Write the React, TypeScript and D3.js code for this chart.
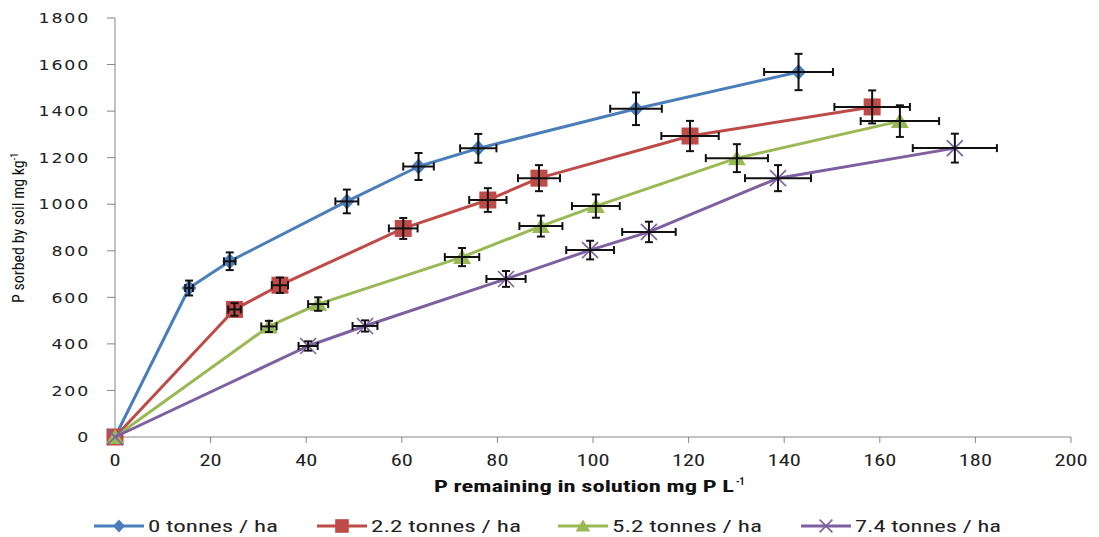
import React from 'react';
import * as d3 from 'd3';

// ---- data ----
const seriesNames = ['0 tonnes / ha', '2.2 tonnes / ha', '5.2 tonnes / ha', '7.4 tonnes / ha'];
const xTicks = [0, 20, 40, 60, 80, 100, 120, 140, 160, 180, 200];
const yTicks = [0, 200, 400, 600, 800, 1000, 1200, 1400, 1600, 1800];

const x0t = [0, 15.5, 24, 48.5, 63.5, 76, 109, 143];
const y0t = [0, 640, 755, 1012, 1162, 1240, 1410, 1568];
const xErr0t = [0, 0.8, 1.2, 2.4, 3.2, 3.8, 5.4, 7.2];
const yErr0t = [0, 32, 38, 51, 58, 62, 70, 78];

const x22t = [0, 25, 34.5, 60.3, 78, 88.7, 120.3, 158.4];
const y22t = [0, 548, 652, 896, 1018, 1112, 1293, 1418];
const xErr22t = [0, 1.3, 1.7, 3.0, 3.9, 4.4, 6.0, 7.9];
const yErr22t = [0, 27, 33, 45, 51, 56, 65, 71];

const x52t = [0, 32.2, 42.5, 72.6, 89.1, 100.6, 130.1, 164.2];
const y52t = [0, 475, 571, 773, 906, 992, 1198, 1357];
const xErr52t = [0, 1.6, 2.1, 3.6, 4.5, 5.0, 6.5, 8.2];
const yErr52t = [0, 24, 29, 39, 45, 50, 60, 68];

const x74t = [0, 40.4, 52.3, 81.8, 99.4, 111.7, 138.7, 175.7];
const y74t = [0, 391, 477, 679, 803, 881, 1112, 1241];
const xErr74t = [0, 2.0, 2.6, 4.1, 5.0, 5.6, 6.9, 8.8];
const yErr74t = [0, 20, 24, 34, 40, 44, 56, 62];

const seriesX = [x0t, x22t, x52t, x74t];
const seriesY = [y0t, y22t, y52t, y74t];
const seriesXErr = [xErr0t, xErr22t, xErr52t, xErr74t];
const seriesYErr = [yErr0t, yErr22t, yErr52t, yErr74t];

// ---- styles ----
const colors = ['#4A7EBB', '#BE4B48', '#98B954', '#7D60A0'];
const markerTypes = ['diamond', 'square', 'triangle', 'x'];
const axisColor = '#868686';
const narrowFont = "'Liberation Sans Narrow', 'Arial Narrow', 'Roboto Condensed', 'Liberation Sans', sans-serif";
const wideFont = "'DejaVu Sans', Verdana, sans-serif";

const W = 1099, H = 537;
const plot = { left: 115, right: 1071, top: 18, bottom: 437 };
const legendX = [94, 317, 558, 801];
const legendTextLen = [130, 150, 150, 146];

function Marker({ type, cx, cy, color, k = 1 }: { type: string; cx: number; cy: number; color: string; k?: number }) {
  if (type === 'diamond') {
    const r = 7.5 * k;
    return <path d={`M${cx},${cy - r - 0.5} L${cx + r},${cy} L${cx},${cy + r + 0.5} L${cx - r},${cy} Z`} fill={color} />;
  }
  if (type === 'square') {
    const s = 8.5 * k;
    return <rect x={cx - s} y={cy - s} width={2 * s} height={2 * s} fill={color} />;
  }
  if (type === 'triangle') {
    const s = 8 * k;
    return <path d={`M${cx},${cy - s} L${cx + s + 1},${cy + s - 1} L${cx - s - 1},${cy + s - 1} Z`} fill={color} />;
  }
  const s = 8 * k;
  return (
    <g stroke={color} strokeWidth={1.6}>
      <line x1={cx - s} y1={cy - s} x2={cx + s} y2={cy + s} />
      <line x1={cx - s} y1={cy + s} x2={cx + s} y2={cy - s} />
    </g>
  );
}

export default function App() {
  const xScale = d3.scaleLinear().domain([0, 200]).range([plot.left, plot.right]);
  const yScale = d3.scaleLinear().domain([0, 1800]).range([plot.bottom, plot.top]);
  const line = d3
    .line<[number, number]>()
    .x((d) => xScale(d[0]))
    .y((d) => yScale(d[1]))
    .curve(d3.curveLinear);

  return (
    <svg width={W} height={H} style={{ position: 'absolute', left: 0, top: 0, background: '#fff' }}>
      {/* axes */}
      <line x1={plot.left} y1={plot.top} x2={plot.left} y2={plot.bottom} stroke={axisColor} strokeWidth={1} />
      <line x1={plot.left} y1={plot.bottom} x2={plot.right} y2={plot.bottom} stroke={axisColor} strokeWidth={1} />
      {yTicks.map((t) => (
        <g key={'y' + t}>
          <line x1={plot.left - 8} x2={plot.left} y1={yScale(t)} y2={yScale(t)} stroke={axisColor} />
          <text
            transform={`translate(90,${yScale(t)}) scale(1.2,1)`}
            dy="0.36em"
            textAnchor="end"
            fontFamily={wideFont}
            fontSize={14.5}
            letterSpacing={1.5}
            fill="#222"
          >
            {t}
          </text>
        </g>
      ))}
      {xTicks.map((t) => (
        <g key={'x' + t}>
          <line x1={xScale(t)} x2={xScale(t)} y1={plot.bottom} y2={plot.bottom + 6} stroke={axisColor} />
          <text
            transform={`translate(${xScale(t)},466) scale(1.4,1)`}
            textAnchor="middle"
            fontFamily={narrowFont}
            fontSize={16}
            fill="#222"
          >
            {t}
          </text>
        </g>
      ))}
      {/* axis titles */}
      <text
        x={434}
        y={492}
        fontFamily={narrowFont}
        fontSize={16}
        fontWeight="bold"
        fill="#111"
        textLength={300}
        lengthAdjust="spacingAndGlyphs"
      >
        P remaining in solution mg P L
      </text>
      <text x={736} y={485} fontFamily={narrowFont} fontSize={10} fontWeight="bold" fill="#111">
        -1
      </text>
      <text
        transform="translate(24,228) rotate(-90)"
        textAnchor="middle"
        fontFamily={narrowFont}
        fontSize={16}
        fill="#111"
      >
        P sorbed by soil mg kg
        <tspan dy={-6} fontSize={10}>-1</tspan>
      </text>

      {/* series lines + markers */}
      {seriesX.map((xs, si) => {
        const pts = xs.map((x, i) => [x, seriesY[si][i]] as [number, number]);
        return (
          <g key={'s' + si}>
            <path d={line(pts) || ''} fill="none" stroke={colors[si]} strokeWidth={3} strokeLinejoin="round" />
            {pts.map((p, i) => (
              <Marker key={i} type={markerTypes[si]} cx={xScale(p[0])} cy={yScale(p[1])} color={colors[si]} />
            ))}
          </g>
        );
      })}

      {/* error bars */}
      {seriesX.map((xs, si) => (
        <g key={'e' + si} stroke="#111" strokeWidth={2}>
          {xs.map((x, i) => {
            const y = seriesY[si][i];
            const xe = seriesXErr[si][i];
            const ye = seriesYErr[si][i];
            if (xe === 0 && ye === 0) return null;
            const cx = xScale(x), cy = yScale(y);
            const xl = xScale(x - xe), xr = xScale(x + xe);
            const yt = yScale(y + ye), yb = yScale(y - ye);
            const c = 4;
            return (
              <g key={i}>
                <line x1={xl} x2={xr} y1={cy} y2={cy} />
                <line x1={xl} x2={xl} y1={cy - c} y2={cy + c} />
                <line x1={xr} x2={xr} y1={cy - c} y2={cy + c} />
                <line x1={cx} x2={cx} y1={yt} y2={yb} />
                <line x1={cx - c} x2={cx + c} y1={yt} y2={yt} />
                <line x1={cx - c} x2={cx + c} y1={yb} y2={yb} />
              </g>
            );
          })}
        </g>
      ))}

      {/* legend */}
      {seriesNames.map((name, si) => {
        const lx = legendX[si];
        const ly = 526;
        return (
          <g key={'l' + si}>
            <line x1={lx} x2={lx + 50} y1={ly} y2={ly} stroke={colors[si]} strokeWidth={3} />
            <Marker type={markerTypes[si]} cx={lx + 25} cy={ly} color={colors[si]} k={0.8} />
            <text
              x={lx + 54}
              y={ly}
              dy="0.35em"
              fontFamily={narrowFont}
              fontSize={17}
              fill="#222"
              textLength={legendTextLen[si]}
              lengthAdjust="spacingAndGlyphs"
            >
              {name}
            </text>
          </g>
        );
      })}
    </svg>
  );
}
